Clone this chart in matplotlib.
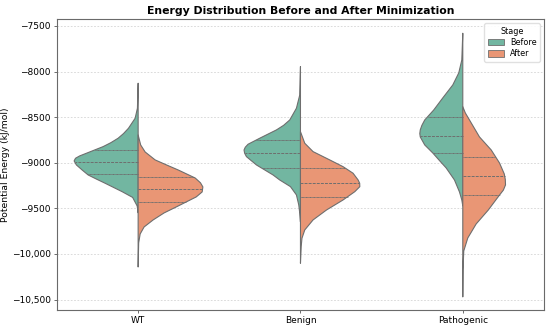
import colorsys
import numpy as np
import matplotlib
matplotlib.use("Agg")
import matplotlib.pyplot as plt
from matplotlib.patches import Patch

# categories and stages
groups = ["WT", "Benign", "Pathogenic"]
stages = ["Before", "After"]

# density profiles (energy in kJ/mol, density relative to widest half)
wt_before_energy = [-8128, -8402, -8512, -8622, -8680, -8731, -8780, -8823, -8896, -8925,
                    -8951, -8980, -9024, -9079, -9134, -9180, -9225, -9317, -9380, -9474, -9550]
wt_before_density = [0, .011, .046, .149, .225, .308, .420, .539, .797, .900,
                     .965, .986, .951, .863, .770, .640, .508, .247, .085, .015, 0]
wt_after_energy = [-8695, -8805, -8882, -8969, -9025, -9079, -9167, -9220, -9265, -9320,
                   -9375, -9441, -9485, -9550, -9627, -9704, -9781, -9879, -10143]
wt_after_density = [0, .039, .108, .262, .440, .616, .878, .960, .997, .986,
                    .894, .709, .586, .400, .231, .092, .031, .008, 0]

benign_before_energy = [-7946, -8257, -8402, -8531, -8590, -8640, -8731, -8797, -8830, -8860,
                        -8895, -8933, -9024, -9134, -9189, -9262, -9353, -9463, -9554, -9649]
benign_before_density = [0, .011, .062, .165, .260, .370, .627, .807, .850, .869,
                         .860, .832, .678, .422, .319, .154, .062, .026, .011, 0]
benign_after_energy = [-8659, -8786, -8878, -8969, -9043, -9115, -9189, -9225, -9262, -9317,
                       -9408, -9518, -9627, -9737, -9828, -9920, -10102]
benign_after_density = [0, .066, .194, .451, .656, .810, .888, .912, .914, .837,
                        .656, .401, .194, .066, .023, .011, 0]

path_before_energy = [-7580, -7873, -8015, -8147, -8289, -8421, -8531, -8590, -8640, -8680,
                      -8717, -8805, -8893, -8980, -9057, -9189, -9320, -9408, -9474]
path_before_density = [0, .015, .062, .154, .308, .447, .586, .630, .655, .662,
                       .655, .586, .462, .354, .256, .128, .051, .015, 0]
path_after_energy = [-8385, -8454, -8531, -8717, -8860, -9002, -9123, -9185, -9243, -9300,
                     -9364, -9518, -9671, -9825, -9967, -10175, -10471]
path_after_density = [0, .039, .103, .257, .438, .565, .639, .655, .658, .625,
                      .555, .393, .206, .077, .015, .003, 0]

# quartiles (Q3, median, Q1)
wt_before_quart = [-8860, -8988, -9123]
wt_after_quart = [-9159, -9291, -9433]
benign_before_quart = [-8750, -8896, -9060]
benign_after_quart = [-9060, -9218, -9372]
path_before_quart = [-8494, -8703, -8896]
path_after_quart = [-8933, -9145, -9353]

# y axis ticks
y_ticks = [-10500, -10000, -9500, -9000, -8500, -8000, -7500]
y_tick_labels = ["\u221210,500", "\u221210,000", "\u22129500", "\u22129000",
                 "\u22128500", "\u22128000", "\u22127500"]

profiles = {
    ("WT", "Before"): (wt_before_energy, wt_before_density, wt_before_quart),
    ("WT", "After"): (wt_after_energy, wt_after_density, wt_after_quart),
    ("Benign", "Before"): (benign_before_energy, benign_before_density, benign_before_quart),
    ("Benign", "After"): (benign_after_energy, benign_after_density, benign_after_quart),
    ("Pathogenic", "Before"): (path_before_energy, path_before_density, path_before_quart),
    ("Pathogenic", "After"): (path_after_energy, path_after_density, path_after_quart),
}


def desaturate(hex_color, prop):
    r, g, b = matplotlib.colors.to_rgb(hex_color)
    h, l, s = colorsys.rgb_to_hls(r, g, b)
    return colorsys.hls_to_rgb(h, l, s * prop)


colors = {"Before": desaturate("#66c2a5", 0.75), "After": desaturate("#fc8d62", 0.75)}
edge = "#6e6e6e"
half_width = 0.4

fig, ax = plt.subplots(figsize=(5.5, 3.27), dpi=100)
fig.subplots_adjust(left=0.1036, right=0.989, bottom=0.053, top=0.941)

# dashed horizontal grid
ax.set_axisbelow(True)
ax.grid(axis="y", linestyle=(0, (2, 2)), color="#d4d4d4", linewidth=0.6)

for pos, group in enumerate(groups):
    for stage in stages:
        energy, density, quart = profiles[(group, stage)]
        energy = np.array(energy, dtype=float)
        width = np.array(density) * half_width
        side = -1 if stage == "Before" else 1
        xs = np.concatenate([pos + side * width, [pos, pos]])
        ys = np.concatenate([energy, [energy[-1], energy[0]]])
        ax.fill(xs, ys, facecolor=colors[stage], edgecolor=edge, linewidth=0.8,
                joinstyle="round", zorder=2)
        # quartile lines
        order = np.argsort(energy)
        for i, q in enumerate(quart):
            w = np.interp(q, energy[order], width[order])
            dash = (0, (3, 1.2)) if i == 1 else (0, (1.0, 0.4))
            ax.plot([pos, pos + side * w], [q, q], color=edge, linewidth=0.7,
                    linestyle=dash, zorder=3)

ax.set_xlim(-0.5, 2.5)
ax.set_ylim(-10611, -7427)
ax.set_xticks(range(len(groups)))
ax.set_xticklabels(groups, fontsize=6.5)
ax.set_yticks(y_ticks)
ax.set_yticklabels(y_tick_labels, fontsize=6.5)
ax.tick_params(length=2.5, width=0.6, color="#555555", pad=2)
for spine in ax.spines.values():
    spine.set_color("#6a6a6a")
    spine.set_linewidth(0.8)

ax.set_ylabel("Potential Energy (kJ/mol)", fontsize=6.7, labelpad=1)
ax.set_title("Energy Distribution Before and After Minimization",
             fontsize=7.8, fontweight="bold", pad=4)

handles = [Patch(facecolor=colors[s], edgecolor=edge, linewidth=0.6, label=s) for s in stages]
ax.legend(handles=handles, title="Stage", loc="upper right", fontsize=5.8,
          title_fontsize=5.8, frameon=True, framealpha=0.9, edgecolor="#dddddd",
          handlelength=2.0, handleheight=0.8, borderpad=0.4, labelspacing=0.3)

plt.savefig("out.png", dpi=100)
